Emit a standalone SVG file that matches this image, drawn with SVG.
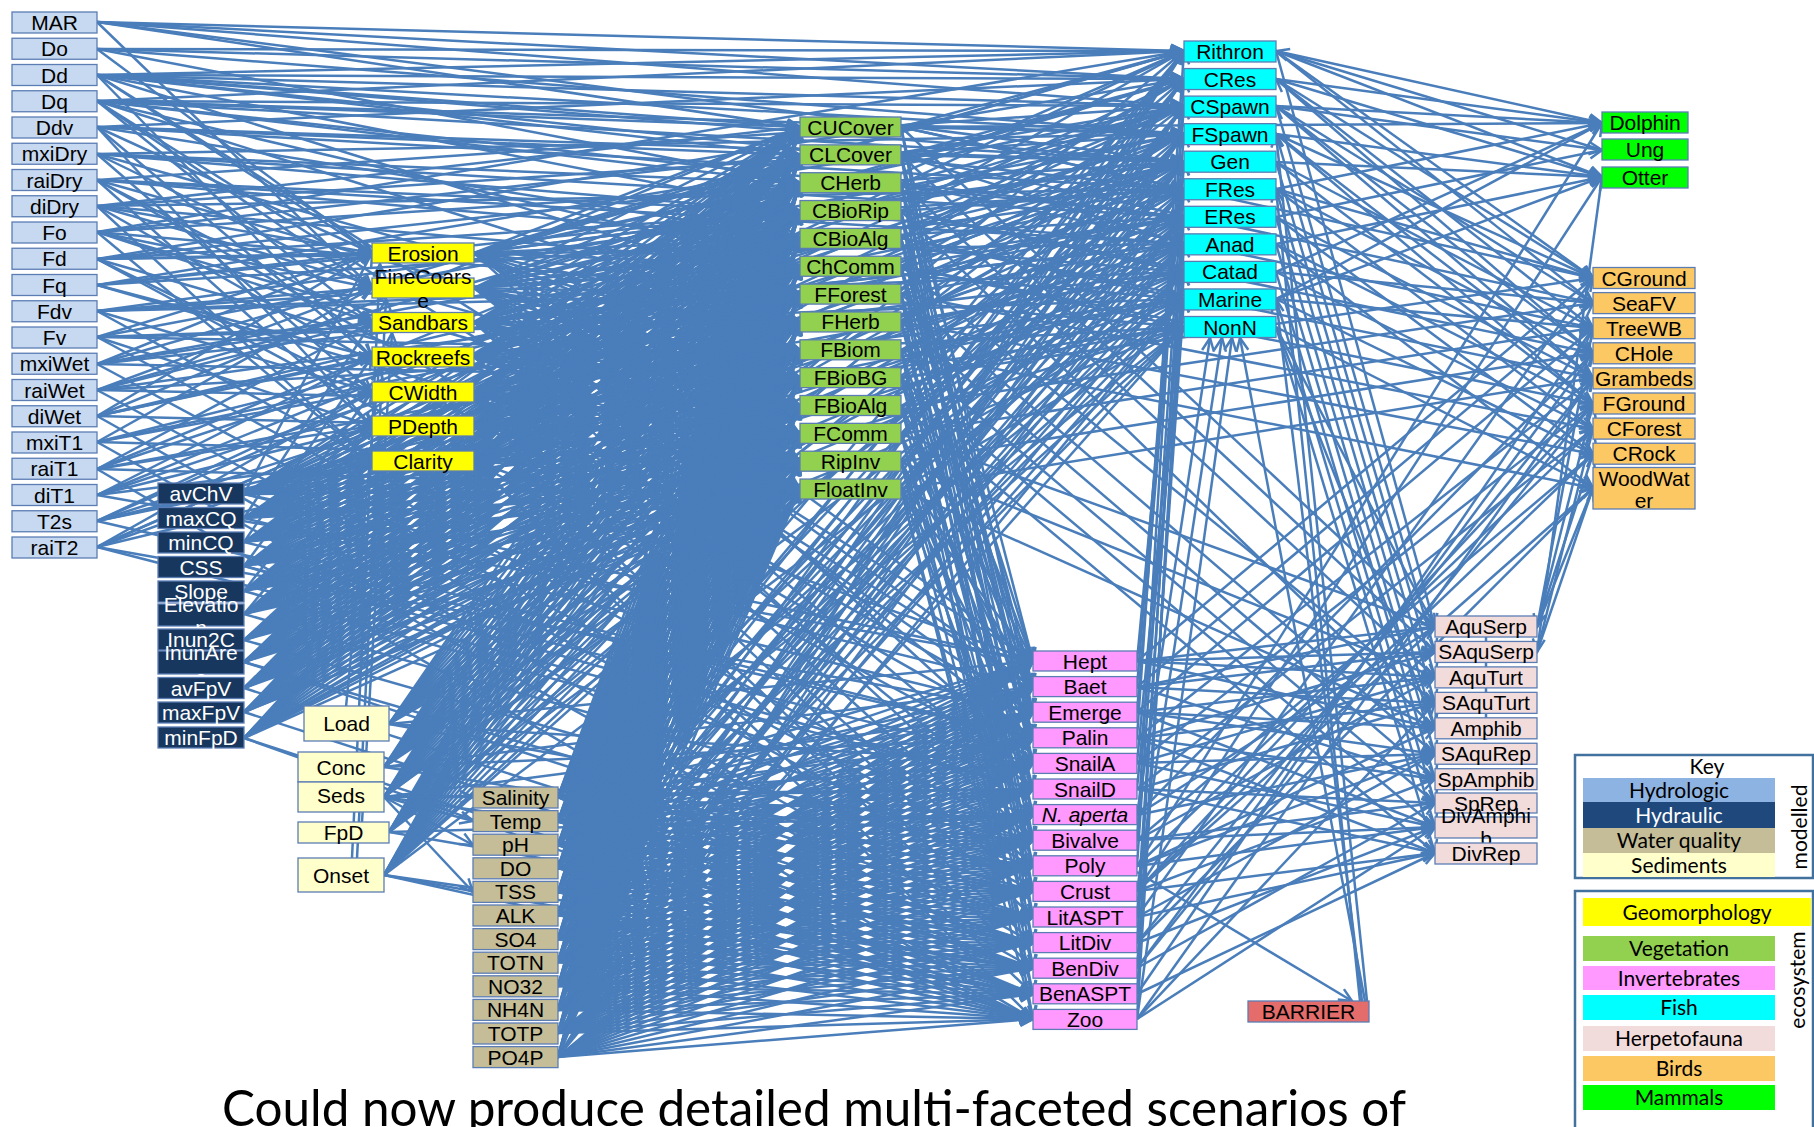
<svg xmlns="http://www.w3.org/2000/svg" width="1814" height="1127" viewBox="0 0 1814 1127">
<defs>
<style>
#connectors path{fill:none;stroke:#4a7ebb;stroke-width:2.5;marker-end:url(#ah)}
#connectors path.plain{marker-end:none}
.n rect{stroke:#5b7db4;stroke-width:1.3}
.n text{font-family:"Liberation Sans",Arial,sans-serif;font-size:21px;text-anchor:middle;fill:#000}
.hy rect{fill:#c6d9f1}
.hd rect{fill:#17375e}
.hd text{fill:#fff}
.wq rect{fill:#c4bd97}
.se rect{fill:#ffffcc}
.ge rect{fill:#ffff00}
.vg rect{fill:#92d050}
.fi rect{fill:#00ffff}
.iv rect{fill:#ff99ff}
.he rect{fill:#f2dcdb}
.bi rect{fill:#fcc864}
.ma rect{fill:#00ff00}
.br rect{fill:#e46c6a}
.key text{font-family:Lato,"Liberation Sans",sans-serif;font-size:21px;text-anchor:middle;fill:#000}
.frame{fill:#fff;stroke:#41719c;stroke-width:2.5}
.title{font-family:Lato,"Liberation Sans",sans-serif;font-size:50px;fill:#000}
</style>
<marker id="ah" markerUnits="userSpaceOnUse" markerWidth="20" markerHeight="18" refX="14" refY="7" orient="auto" overflow="visible"><path d="M1 1L14 7L1 13" fill="none" stroke="#4a7ebb" stroke-width="2.5"/></marker>
</defs>
<rect width="1814" height="1127" fill="#fff"/>

<g id="connectors">
<!-- hydrologic drivers -->
<path d="M97 22L1184 51"/><path d="M97 22L1184 79"/><path d="M97 22L1184 106"/><path d="M97 22L1184 162"/><path d="M97 22L800 127"/><path d="M97 22L372 288"/>
<path d="M97 49L1184 51"/><path d="M97 49L1184 79"/><path d="M97 49L1184 134"/><path d="M97 49L800 183"/><path d="M97 49L372 253"/>
<path d="M97 75L1184 51"/><path d="M97 75L1184 79"/><path d="M97 75L1184 106"/><path d="M97 75L1184 134"/><path d="M97 75L1184 162"/><path d="M97 75L1184 189"/><path d="M97 75L800 127"/><path d="M97 75L800 155"/><path d="M97 75L800 211"/><path d="M97 75L800 294"/><path d="M97 75L372 253"/><path d="M97 75L1033 661"/><path d="M97 75L372 357"/>
<path d="M97 101L1184 51"/><path d="M97 101L1184 106"/><path d="M97 101L1184 134"/><path d="M97 101L1184 162"/><path d="M97 101L1184 217"/><path d="M97 101L800 127"/><path d="M97 101L800 183"/><path d="M97 101L800 266"/><path d="M97 101L800 322"/><path d="M97 101L372 322"/><path d="M97 101L1033 687"/><path d="M97 101L372 288"/>
<path d="M97 127L1184 79"/><path d="M97 127L1184 162"/><path d="M97 127L1184 189"/><path d="M97 127L800 155"/><path d="M97 127L800 238"/><path d="M97 127L372 253"/><path d="M97 127L372 357"/><path d="M97 127L372 426"/>
<path d="M97 154L1184 134"/><path d="M97 154L1184 217"/><path d="M97 154L1184 244"/><path d="M97 154L800 183"/><path d="M97 154L800 350"/><path d="M97 154L372 392"/><path d="M97 154L372 288"/>
<path d="M97 180L1184 106"/><path d="M97 180L1184 244"/><path d="M97 180L1184 272"/><path d="M97 180L800 211"/><path d="M97 180L800 378"/><path d="M97 180L1033 712"/><path d="M97 180L372 426"/><path d="M97 180L372 322"/>
<path d="M97 206L1184 134"/><path d="M97 206L1184 189"/><path d="M97 206L1184 299"/><path d="M97 206L800 127"/><path d="M97 206L800 406"/><path d="M97 206L372 253"/><path d="M97 206L1033 738"/><path d="M97 206L372 461"/>
<path d="M97 232L1184 51"/><path d="M97 232L1184 162"/><path d="M97 232L1184 327"/><path d="M97 232L800 155"/><path d="M97 232L800 434"/><path d="M97 232L372 322"/><path d="M97 232L372 461"/><path d="M97 232L372 288"/>
<path d="M97 259L1184 79"/><path d="M97 259L1184 189"/><path d="M97 259L1184 244"/><path d="M97 259L800 183"/><path d="M97 259L800 462"/><path d="M97 259L372 253"/><path d="M97 259L1033 763"/><path d="M97 259L372 392"/>
<path d="M97 285L1184 106"/><path d="M97 285L1184 217"/><path d="M97 285L800 211"/><path d="M97 285L800 489"/><path d="M97 285L372 357"/><path d="M97 285L372 253"/>
<path d="M97 311L1184 162"/><path d="M97 311L1184 272"/><path d="M97 311L800 266"/><path d="M97 311L800 294"/><path d="M97 311L372 392"/><path d="M97 311L372 288"/><path d="M97 311L372 461"/>
<path d="M97 337L1184 134"/><path d="M97 337L1184 299"/><path d="M97 337L800 322"/><path d="M97 337L800 350"/><path d="M97 337L372 426"/><path d="M97 337L1033 840"/><path d="M97 337L372 253"/>
<path d="M97 364L1184 51"/><path d="M97 364L1184 244"/><path d="M97 364L800 238"/><path d="M97 364L800 378"/><path d="M97 364L372 253"/><path d="M97 364L1033 866"/><path d="M97 364L372 322"/>
<path d="M97 390L1184 79"/><path d="M97 390L1184 327"/><path d="M97 390L800 294"/><path d="M97 390L800 406"/><path d="M97 390L372 322"/><path d="M97 390L1033 891"/><path d="M97 390L372 288"/>
<path d="M97 416L1184 162"/><path d="M97 416L1184 189"/><path d="M97 416L800 127"/><path d="M97 416L800 434"/><path d="M97 416L372 357"/><path d="M97 416L1033 943"/><path d="M97 416L372 253"/>
<path d="M97 442L1184 217"/><path d="M97 442L800 266"/><path d="M97 442L800 462"/><path d="M97 442L372 392"/><path d="M97 442L1033 968"/><path d="M97 442L372 288"/>
<path d="M97 469L1184 106"/><path d="M97 469L1184 272"/><path d="M97 469L800 183"/><path d="M97 469L800 489"/><path d="M97 469L372 426"/><path d="M97 469L1033 1019"/><path d="M97 469L372 322"/>
<path d="M97 495L1184 134"/><path d="M97 495L800 211"/><path d="M97 495L800 322"/><path d="M97 495L372 461"/><path d="M97 495L1033 661"/><path d="M97 495L372 357"/>
<path d="M97 521L1184 51"/><path d="M97 521L1184 299"/><path d="M97 521L800 294"/><path d="M97 521L800 350"/><path d="M97 521L372 461"/><path d="M97 521L1033 738"/><path d="M97 521L372 392"/>
<path d="M97 547L1184 162"/><path d="M97 547L800 238"/><path d="M97 547L800 378"/><path d="M97 547L372 392"/><path d="M97 547L1033 712"/><path d="M97 547L1033 789"/><path d="M97 547L372 426"/>
<!-- hydraulic drivers: every vegetation node -->
<path d="M244 494L800 127"/><path d="M244 494L800 155"/><path d="M244 494L800 183"/><path d="M244 494L800 211"/><path d="M244 494L800 238"/><path d="M244 494L800 266"/><path d="M244 494L800 294"/><path d="M244 494L800 322"/><path d="M244 494L800 350"/><path d="M244 494L800 378"/><path d="M244 494L800 406"/><path d="M244 494L800 434"/><path d="M244 494L800 462"/><path d="M244 494L800 489"/>
<path d="M244 518L800 127"/><path d="M244 518L800 155"/><path d="M244 518L800 183"/><path d="M244 518L800 211"/><path d="M244 518L800 238"/><path d="M244 518L800 266"/><path d="M244 518L800 294"/><path d="M244 518L800 322"/><path d="M244 518L800 350"/><path d="M244 518L800 378"/><path d="M244 518L800 406"/><path d="M244 518L800 434"/><path d="M244 518L800 462"/><path d="M244 518L800 489"/>
<path d="M244 542L800 127"/><path d="M244 542L800 155"/><path d="M244 542L800 183"/><path d="M244 542L800 211"/><path d="M244 542L800 238"/><path d="M244 542L800 266"/><path d="M244 542L800 294"/><path d="M244 542L800 322"/><path d="M244 542L800 350"/><path d="M244 542L800 378"/><path d="M244 542L800 406"/><path d="M244 542L800 434"/><path d="M244 542L800 462"/><path d="M244 542L800 489"/>
<path d="M244 566L800 127"/><path d="M244 566L800 155"/><path d="M244 566L800 183"/><path d="M244 566L800 211"/><path d="M244 566L800 238"/><path d="M244 566L800 266"/><path d="M244 566L800 294"/><path d="M244 566L800 322"/><path d="M244 566L800 350"/><path d="M244 566L800 378"/><path d="M244 566L800 406"/><path d="M244 566L800 434"/><path d="M244 566L800 462"/><path d="M244 566L800 489"/>
<path d="M244 591L800 127"/><path d="M244 591L800 155"/><path d="M244 591L800 183"/><path d="M244 591L800 211"/><path d="M244 591L800 238"/><path d="M244 591L800 266"/><path d="M244 591L800 294"/><path d="M244 591L800 322"/><path d="M244 591L800 350"/><path d="M244 591L800 378"/><path d="M244 591L800 406"/><path d="M244 591L800 434"/><path d="M244 591L800 462"/><path d="M244 591L800 489"/>
<path d="M244 614L800 127"/><path d="M244 614L800 155"/><path d="M244 614L800 183"/><path d="M244 614L800 211"/><path d="M244 614L800 238"/><path d="M244 614L800 266"/><path d="M244 614L800 294"/><path d="M244 614L800 322"/><path d="M244 614L800 350"/><path d="M244 614L800 378"/><path d="M244 614L800 406"/><path d="M244 614L800 434"/><path d="M244 614L800 462"/><path d="M244 614L800 489"/>
<path d="M244 640L800 127"/><path d="M244 640L800 155"/><path d="M244 640L800 183"/><path d="M244 640L800 211"/><path d="M244 640L800 238"/><path d="M244 640L800 266"/><path d="M244 640L800 294"/><path d="M244 640L800 322"/><path d="M244 640L800 350"/><path d="M244 640L800 378"/><path d="M244 640L800 406"/><path d="M244 640L800 434"/><path d="M244 640L800 462"/><path d="M244 640L800 489"/>
<path d="M244 662L800 127"/><path d="M244 662L800 155"/><path d="M244 662L800 183"/><path d="M244 662L800 211"/><path d="M244 662L800 238"/><path d="M244 662L800 266"/><path d="M244 662L800 294"/><path d="M244 662L800 322"/><path d="M244 662L800 350"/><path d="M244 662L800 378"/><path d="M244 662L800 406"/><path d="M244 662L800 434"/><path d="M244 662L800 462"/><path d="M244 662L800 489"/>
<path d="M244 688L800 127"/><path d="M244 688L800 155"/><path d="M244 688L800 183"/><path d="M244 688L800 211"/><path d="M244 688L800 238"/><path d="M244 688L800 266"/><path d="M244 688L800 294"/><path d="M244 688L800 322"/><path d="M244 688L800 350"/><path d="M244 688L800 378"/><path d="M244 688L800 406"/><path d="M244 688L800 434"/><path d="M244 688L800 462"/><path d="M244 688L800 489"/>
<path d="M244 712L800 127"/><path d="M244 712L800 155"/><path d="M244 712L800 183"/><path d="M244 712L800 211"/><path d="M244 712L800 238"/><path d="M244 712L800 266"/><path d="M244 712L800 294"/><path d="M244 712L800 322"/><path d="M244 712L800 350"/><path d="M244 712L800 378"/><path d="M244 712L800 406"/><path d="M244 712L800 434"/><path d="M244 712L800 462"/><path d="M244 712L800 489"/>
<path d="M244 738L800 127"/><path d="M244 738L800 155"/><path d="M244 738L800 183"/><path d="M244 738L800 211"/><path d="M244 738L800 238"/><path d="M244 738L800 266"/><path d="M244 738L800 294"/><path d="M244 738L800 322"/><path d="M244 738L800 350"/><path d="M244 738L800 378"/><path d="M244 738L800 406"/><path d="M244 738L800 434"/><path d="M244 738L800 462"/><path d="M244 738L800 489"/>
<!-- hydraulic drivers: fish, geomorphology, invertebrates -->
<path d="M244 494L1184 51"/><path d="M244 494L1184 106"/><path d="M244 494L1184 162"/><path d="M244 494L372 253"/><path d="M244 494L1033 661"/><path d="M244 494L1033 687"/>
<path d="M244 518L1184 79"/><path d="M244 518L1184 134"/><path d="M244 518L1184 189"/><path d="M244 518L372 322"/><path d="M244 518L1033 712"/>
<path d="M244 542L1184 106"/><path d="M244 542L1184 217"/><path d="M244 542L1184 244"/><path d="M244 542L372 357"/><path d="M244 542L1033 738"/>
<path d="M244 566L1184 162"/><path d="M244 566L1184 272"/><path d="M244 566L372 392"/><path d="M244 566L1033 763"/><path d="M244 566L1033 789"/>
<path d="M244 591L1184 134"/><path d="M244 591L1184 299"/><path d="M244 591L372 426"/><path d="M244 591L1033 815"/>
<path d="M244 614L1184 189"/><path d="M244 614L1184 327"/><path d="M244 614L372 461"/><path d="M244 614L1033 840"/>
<path d="M244 640L1184 79"/><path d="M244 640L1184 244"/><path d="M244 640L1033 866"/>
<path d="M244 662L1184 217"/><path d="M244 662L1184 272"/><path d="M244 662L1033 891"/><path d="M244 662L1033 917"/>
<path d="M244 688L1184 162"/><path d="M244 688L1184 299"/><path d="M244 688L1033 943"/>
<path d="M244 712L1184 134"/><path d="M244 712L1184 327"/><path d="M244 712L1033 968"/>
<path d="M244 738L1184 189"/><path d="M244 738L1184 244"/><path d="M244 738L1033 994"/><path d="M244 738L1033 1019"/>
<!-- sediment drivers: every vegetation node -->
<path d="M389 724L800 127"/><path d="M389 724L800 155"/><path d="M389 724L800 183"/><path d="M389 724L800 211"/><path d="M389 724L800 238"/><path d="M389 724L800 266"/><path d="M389 724L800 294"/><path d="M389 724L800 322"/><path d="M389 724L800 350"/><path d="M389 724L800 378"/><path d="M389 724L800 406"/><path d="M389 724L800 434"/><path d="M389 724L800 462"/><path d="M389 724L800 489"/>
<path d="M384 767L800 127"/><path d="M384 767L800 155"/><path d="M384 767L800 183"/><path d="M384 767L800 211"/><path d="M384 767L800 238"/><path d="M384 767L800 266"/><path d="M384 767L800 294"/><path d="M384 767L800 322"/><path d="M384 767L800 350"/><path d="M384 767L800 378"/><path d="M384 767L800 406"/><path d="M384 767L800 434"/><path d="M384 767L800 462"/><path d="M384 767L800 489"/>
<path d="M384 797L800 127"/><path d="M384 797L800 155"/><path d="M384 797L800 183"/><path d="M384 797L800 211"/><path d="M384 797L800 238"/><path d="M384 797L800 266"/><path d="M384 797L800 294"/><path d="M384 797L800 322"/><path d="M384 797L800 350"/><path d="M384 797L800 378"/><path d="M384 797L800 406"/><path d="M384 797L800 434"/><path d="M384 797L800 462"/><path d="M384 797L800 489"/>
<path d="M389 832L800 127"/><path d="M389 832L800 155"/><path d="M389 832L800 183"/><path d="M389 832L800 211"/><path d="M389 832L800 238"/><path d="M389 832L800 266"/><path d="M389 832L800 294"/><path d="M389 832L800 322"/><path d="M389 832L800 350"/><path d="M389 832L800 378"/><path d="M389 832L800 406"/><path d="M389 832L800 434"/><path d="M389 832L800 462"/><path d="M389 832L800 489"/>
<path d="M384 875L800 127"/><path d="M384 875L800 155"/><path d="M384 875L800 183"/><path d="M384 875L800 211"/><path d="M384 875L800 238"/><path d="M384 875L800 266"/><path d="M384 875L800 294"/><path d="M384 875L800 322"/><path d="M384 875L800 350"/><path d="M384 875L800 378"/><path d="M384 875L800 406"/><path d="M384 875L800 434"/><path d="M384 875L800 462"/><path d="M384 875L800 489"/>
<!-- sediment drivers: fish, invertebrates, water quality -->
<path d="M389 724L1184 51"/><path d="M389 724L1184 106"/><path d="M389 724L1033 661"/><path d="M389 724L1033 763"/><path d="M389 724L1033 840"/>
<path d="M384 767L1184 79"/><path d="M384 767L1184 162"/><path d="M384 767L1033 687"/><path d="M384 767L1033 738"/><path d="M384 767L1033 866"/>
<path d="M384 797L1184 134"/><path d="M384 797L1184 217"/><path d="M384 797L1033 712"/><path d="M384 797L1033 789"/><path d="M384 797L1033 891"/><path d="M384 797L473 797"/><path d="M384 797L473 821"/><path d="M384 797L473 845"/><path d="M384 797L473 892"/>
<path d="M389 832L1184 189"/><path d="M389 832L1184 244"/><path d="M389 832L1033 815"/><path d="M389 832L1033 943"/>
<path d="M384 875L1184 162"/><path d="M384 875L1184 272"/><path d="M384 875L1033 968"/><path d="M384 875L1033 1019"/><path d="M384 875L1033 994"/>
<path d="M352 858L380 264"/><path d="M357 858L386 299"/><path d="M362 822L392 333"/><path d="M346 707L379 368"/>
<!-- water quality to vegetation -->
<path d="M558 797L800 127"/><path d="M558 797L800 155"/><path d="M558 797L800 183"/><path d="M558 797L800 211"/><path d="M558 797L800 238"/><path d="M558 797L800 266"/><path d="M558 797L800 294"/><path d="M558 797L800 322"/><path d="M558 797L800 350"/><path d="M558 797L800 378"/><path d="M558 797L800 406"/><path d="M558 797L800 434"/><path d="M558 797L800 462"/><path d="M558 797L800 489"/>
<path d="M558 821L800 127"/><path d="M558 821L800 155"/><path d="M558 821L800 183"/><path d="M558 821L800 211"/><path d="M558 821L800 238"/><path d="M558 821L800 266"/><path d="M558 821L800 294"/><path d="M558 821L800 322"/><path d="M558 821L800 350"/><path d="M558 821L800 378"/><path d="M558 821L800 406"/><path d="M558 821L800 434"/><path d="M558 821L800 462"/><path d="M558 821L800 489"/>
<path d="M558 845L800 127"/><path d="M558 845L800 155"/><path d="M558 845L800 183"/><path d="M558 845L800 211"/><path d="M558 845L800 238"/><path d="M558 845L800 266"/><path d="M558 845L800 294"/><path d="M558 845L800 322"/><path d="M558 845L800 350"/><path d="M558 845L800 378"/><path d="M558 845L800 406"/><path d="M558 845L800 434"/><path d="M558 845L800 462"/><path d="M558 845L800 489"/>
<path d="M558 868L800 127"/><path d="M558 868L800 155"/><path d="M558 868L800 183"/><path d="M558 868L800 211"/><path d="M558 868L800 238"/><path d="M558 868L800 266"/><path d="M558 868L800 294"/><path d="M558 868L800 322"/><path d="M558 868L800 350"/><path d="M558 868L800 378"/><path d="M558 868L800 406"/><path d="M558 868L800 434"/><path d="M558 868L800 462"/><path d="M558 868L800 489"/>
<path d="M558 892L800 127"/><path d="M558 892L800 155"/><path d="M558 892L800 183"/><path d="M558 892L800 211"/><path d="M558 892L800 238"/><path d="M558 892L800 266"/><path d="M558 892L800 294"/><path d="M558 892L800 322"/><path d="M558 892L800 350"/><path d="M558 892L800 378"/><path d="M558 892L800 406"/><path d="M558 892L800 434"/><path d="M558 892L800 462"/><path d="M558 892L800 489"/>
<path d="M558 915L800 127"/><path d="M558 915L800 155"/><path d="M558 915L800 183"/><path d="M558 915L800 211"/><path d="M558 915L800 238"/><path d="M558 915L800 266"/><path d="M558 915L800 294"/><path d="M558 915L800 322"/><path d="M558 915L800 350"/><path d="M558 915L800 378"/><path d="M558 915L800 406"/><path d="M558 915L800 434"/><path d="M558 915L800 462"/><path d="M558 915L800 489"/>
<path d="M558 939L800 127"/><path d="M558 939L800 155"/><path d="M558 939L800 183"/><path d="M558 939L800 211"/><path d="M558 939L800 238"/><path d="M558 939L800 266"/><path d="M558 939L800 294"/><path d="M558 939L800 322"/><path d="M558 939L800 350"/><path d="M558 939L800 378"/><path d="M558 939L800 406"/><path d="M558 939L800 434"/><path d="M558 939L800 462"/><path d="M558 939L800 489"/>
<path d="M558 962L800 127"/><path d="M558 962L800 155"/><path d="M558 962L800 183"/><path d="M558 962L800 211"/><path d="M558 962L800 238"/><path d="M558 962L800 266"/><path d="M558 962L800 294"/><path d="M558 962L800 322"/><path d="M558 962L800 350"/><path d="M558 962L800 378"/><path d="M558 962L800 406"/><path d="M558 962L800 434"/><path d="M558 962L800 462"/><path d="M558 962L800 489"/>
<path d="M558 986L800 127"/><path d="M558 986L800 155"/><path d="M558 986L800 183"/><path d="M558 986L800 211"/><path d="M558 986L800 238"/><path d="M558 986L800 266"/><path d="M558 986L800 294"/><path d="M558 986L800 322"/><path d="M558 986L800 350"/><path d="M558 986L800 378"/><path d="M558 986L800 406"/><path d="M558 986L800 434"/><path d="M558 986L800 462"/><path d="M558 986L800 489"/>
<path d="M558 1010L800 127"/><path d="M558 1010L800 155"/><path d="M558 1010L800 183"/><path d="M558 1010L800 211"/><path d="M558 1010L800 238"/><path d="M558 1010L800 266"/><path d="M558 1010L800 294"/><path d="M558 1010L800 322"/><path d="M558 1010L800 350"/><path d="M558 1010L800 378"/><path d="M558 1010L800 406"/><path d="M558 1010L800 434"/><path d="M558 1010L800 462"/><path d="M558 1010L800 489"/>
<path d="M558 1033L800 127"/><path d="M558 1033L800 155"/><path d="M558 1033L800 183"/><path d="M558 1033L800 211"/><path d="M558 1033L800 238"/><path d="M558 1033L800 266"/><path d="M558 1033L800 294"/><path d="M558 1033L800 322"/><path d="M558 1033L800 350"/><path d="M558 1033L800 378"/><path d="M558 1033L800 406"/><path d="M558 1033L800 434"/><path d="M558 1033L800 462"/><path d="M558 1033L800 489"/>
<path d="M558 1057L800 127"/><path d="M558 1057L800 155"/><path d="M558 1057L800 183"/><path d="M558 1057L800 211"/><path d="M558 1057L800 238"/><path d="M558 1057L800 266"/><path d="M558 1057L800 294"/><path d="M558 1057L800 322"/><path d="M558 1057L800 350"/><path d="M558 1057L800 378"/><path d="M558 1057L800 406"/><path d="M558 1057L800 434"/><path d="M558 1057L800 462"/><path d="M558 1057L800 489"/>
<!-- water quality to invertebrates -->
<path d="M558 797L1033 661"/><path d="M558 797L1033 687"/><path d="M558 797L1033 712"/><path d="M558 797L1033 738"/><path d="M558 797L1033 763"/><path d="M558 797L1033 789"/><path d="M558 797L1033 815"/><path d="M558 797L1033 840"/><path d="M558 797L1033 866"/><path d="M558 797L1033 891"/><path d="M558 797L1033 917"/><path d="M558 797L1033 943"/><path d="M558 797L1033 968"/><path d="M558 797L1033 994"/><path d="M558 797L1033 1019"/>
<path d="M558 821L1033 661"/><path d="M558 821L1033 687"/><path d="M558 821L1033 712"/><path d="M558 821L1033 738"/><path d="M558 821L1033 763"/><path d="M558 821L1033 789"/><path d="M558 821L1033 815"/><path d="M558 821L1033 840"/><path d="M558 821L1033 866"/><path d="M558 821L1033 891"/><path d="M558 821L1033 917"/><path d="M558 821L1033 943"/><path d="M558 821L1033 968"/><path d="M558 821L1033 994"/><path d="M558 821L1033 1019"/>
<path d="M558 845L1033 661"/><path d="M558 845L1033 687"/><path d="M558 845L1033 712"/><path d="M558 845L1033 738"/><path d="M558 845L1033 763"/><path d="M558 845L1033 789"/><path d="M558 845L1033 815"/><path d="M558 845L1033 840"/><path d="M558 845L1033 866"/><path d="M558 845L1033 891"/><path d="M558 845L1033 917"/><path d="M558 845L1033 943"/><path d="M558 845L1033 968"/><path d="M558 845L1033 994"/><path d="M558 845L1033 1019"/>
<path d="M558 868L1033 661"/><path d="M558 868L1033 687"/><path d="M558 868L1033 712"/><path d="M558 868L1033 738"/><path d="M558 868L1033 763"/><path d="M558 868L1033 789"/><path d="M558 868L1033 815"/><path d="M558 868L1033 840"/><path d="M558 868L1033 866"/><path d="M558 868L1033 891"/><path d="M558 868L1033 917"/><path d="M558 868L1033 943"/><path d="M558 868L1033 968"/><path d="M558 868L1033 994"/><path d="M558 868L1033 1019"/>
<path d="M558 892L1033 661"/><path d="M558 892L1033 687"/><path d="M558 892L1033 712"/><path d="M558 892L1033 738"/><path d="M558 892L1033 763"/><path d="M558 892L1033 789"/><path d="M558 892L1033 815"/><path d="M558 892L1033 840"/><path d="M558 892L1033 866"/><path d="M558 892L1033 891"/><path d="M558 892L1033 917"/><path d="M558 892L1033 943"/><path d="M558 892L1033 968"/><path d="M558 892L1033 994"/><path d="M558 892L1033 1019"/>
<path d="M558 915L1033 661"/><path d="M558 915L1033 687"/><path d="M558 915L1033 712"/><path d="M558 915L1033 738"/><path d="M558 915L1033 763"/><path d="M558 915L1033 789"/><path d="M558 915L1033 815"/><path d="M558 915L1033 840"/><path d="M558 915L1033 866"/><path d="M558 915L1033 891"/><path d="M558 915L1033 917"/><path d="M558 915L1033 943"/><path d="M558 915L1033 968"/><path d="M558 915L1033 994"/><path d="M558 915L1033 1019"/>
<path d="M558 939L1033 661"/><path d="M558 939L1033 687"/><path d="M558 939L1033 712"/><path d="M558 939L1033 738"/><path d="M558 939L1033 763"/><path d="M558 939L1033 789"/><path d="M558 939L1033 815"/><path d="M558 939L1033 840"/><path d="M558 939L1033 866"/><path d="M558 939L1033 891"/><path d="M558 939L1033 917"/><path d="M558 939L1033 943"/><path d="M558 939L1033 968"/><path d="M558 939L1033 994"/><path d="M558 939L1033 1019"/>
<path d="M558 962L1033 661"/><path d="M558 962L1033 687"/><path d="M558 962L1033 712"/><path d="M558 962L1033 738"/><path d="M558 962L1033 763"/><path d="M558 962L1033 789"/><path d="M558 962L1033 815"/><path d="M558 962L1033 840"/><path d="M558 962L1033 866"/><path d="M558 962L1033 891"/><path d="M558 962L1033 917"/><path d="M558 962L1033 943"/><path d="M558 962L1033 968"/><path d="M558 962L1033 994"/><path d="M558 962L1033 1019"/>
<path d="M558 986L1033 661"/><path d="M558 986L1033 687"/><path d="M558 986L1033 712"/><path d="M558 986L1033 738"/><path d="M558 986L1033 763"/><path d="M558 986L1033 789"/><path d="M558 986L1033 815"/><path d="M558 986L1033 840"/><path d="M558 986L1033 866"/><path d="M558 986L1033 891"/><path d="M558 986L1033 917"/><path d="M558 986L1033 943"/><path d="M558 986L1033 968"/><path d="M558 986L1033 994"/><path d="M558 986L1033 1019"/>
<path d="M558 1010L1033 661"/><path d="M558 1010L1033 687"/><path d="M558 1010L1033 712"/><path d="M558 1010L1033 738"/><path d="M558 1010L1033 763"/><path d="M558 1010L1033 789"/><path d="M558 1010L1033 815"/><path d="M558 1010L1033 840"/><path d="M558 1010L1033 866"/><path d="M558 1010L1033 891"/><path d="M558 1010L1033 917"/><path d="M558 1010L1033 943"/><path d="M558 1010L1033 968"/><path d="M558 1010L1033 994"/><path d="M558 1010L1033 1019"/>
<path d="M558 1033L1033 661"/><path d="M558 1033L1033 687"/><path d="M558 1033L1033 712"/><path d="M558 1033L1033 738"/><path d="M558 1033L1033 763"/><path d="M558 1033L1033 789"/><path d="M558 1033L1033 815"/><path d="M558 1033L1033 840"/><path d="M558 1033L1033 866"/><path d="M558 1033L1033 891"/><path d="M558 1033L1033 917"/><path d="M558 1033L1033 943"/><path d="M558 1033L1033 968"/><path d="M558 1033L1033 994"/><path d="M558 1033L1033 1019"/>
<path d="M558 1057L1033 661"/><path d="M558 1057L1033 687"/><path d="M558 1057L1033 712"/><path d="M558 1057L1033 738"/><path d="M558 1057L1033 763"/><path d="M558 1057L1033 789"/><path d="M558 1057L1033 815"/><path d="M558 1057L1033 840"/><path d="M558 1057L1033 866"/><path d="M558 1057L1033 891"/><path d="M558 1057L1033 917"/><path d="M558 1057L1033 943"/><path d="M558 1057L1033 968"/><path d="M558 1057L1033 994"/><path d="M558 1057L1033 1019"/>
<!-- water quality to fish -->
<path d="M558 797L1184 51"/><path d="M558 797L1184 134"/><path d="M558 797L1184 217"/><path d="M558 797L1184 299"/>
<path d="M558 821L1184 79"/><path d="M558 821L1184 162"/><path d="M558 821L1184 244"/><path d="M558 821L1184 327"/>
<path d="M558 845L1184 106"/><path d="M558 845L1184 189"/><path d="M558 845L1184 272"/><path d="M558 845L1184 51"/>
<path d="M558 868L1184 134"/><path d="M558 868L1184 217"/><path d="M558 868L1184 299"/><path d="M558 868L1184 79"/>
<path d="M558 892L1184 162"/><path d="M558 892L1184 244"/><path d="M558 892L1184 327"/><path d="M558 892L1184 106"/>
<path d="M558 915L1184 189"/><path d="M558 915L1184 272"/><path d="M558 915L1184 51"/><path d="M558 915L1184 134"/>
<path d="M558 939L1184 217"/><path d="M558 939L1184 299"/><path d="M558 939L1184 79"/><path d="M558 939L1184 162"/>
<path d="M558 962L1184 244"/><path d="M558 962L1184 327"/><path d="M558 962L1184 106"/><path d="M558 962L1184 189"/>
<path d="M558 986L1184 272"/><path d="M558 986L1184 51"/><path d="M558 986L1184 134"/><path d="M558 986L1184 217"/>
<path d="M558 1010L1184 299"/><path d="M558 1010L1184 79"/><path d="M558 1010L1184 162"/><path d="M558 1010L1184 244"/>
<path d="M558 1033L1184 327"/><path d="M558 1033L1184 106"/><path d="M558 1033L1184 189"/><path d="M558 1033L1184 272"/>
<path d="M558 1057L1184 51"/><path d="M558 1057L1184 134"/><path d="M558 1057L1184 217"/><path d="M558 1057L1184 299"/>
<!-- geomorphology: every vegetation node -->
<path d="M474 253L800 127"/><path d="M474 253L800 155"/><path d="M474 253L800 183"/><path d="M474 253L800 211"/><path d="M474 253L800 238"/><path d="M474 253L800 266"/><path d="M474 253L800 294"/><path d="M474 253L800 322"/><path d="M474 253L800 350"/><path d="M474 253L800 378"/><path d="M474 253L800 406"/><path d="M474 253L800 434"/><path d="M474 253L800 462"/><path d="M474 253L800 489"/>
<path d="M474 288L800 127"/><path d="M474 288L800 155"/><path d="M474 288L800 183"/><path d="M474 288L800 211"/><path d="M474 288L800 238"/><path d="M474 288L800 266"/><path d="M474 288L800 294"/><path d="M474 288L800 322"/><path d="M474 288L800 350"/><path d="M474 288L800 378"/><path d="M474 288L800 406"/><path d="M474 288L800 434"/><path d="M474 288L800 462"/><path d="M474 288L800 489"/>
<path d="M474 322L800 127"/><path d="M474 322L800 155"/><path d="M474 322L800 183"/><path d="M474 322L800 211"/><path d="M474 322L800 238"/><path d="M474 322L800 266"/><path d="M474 322L800 294"/><path d="M474 322L800 322"/><path d="M474 322L800 350"/><path d="M474 322L800 378"/><path d="M474 322L800 406"/><path d="M474 322L800 434"/><path d="M474 322L800 462"/><path d="M474 322L800 489"/>
<path d="M474 357L800 127"/><path d="M474 357L800 155"/><path d="M474 357L800 183"/><path d="M474 357L800 211"/><path d="M474 357L800 238"/><path d="M474 357L800 266"/><path d="M474 357L800 294"/><path d="M474 357L800 322"/><path d="M474 357L800 350"/><path d="M474 357L800 378"/><path d="M474 357L800 406"/><path d="M474 357L800 434"/><path d="M474 357L800 462"/><path d="M474 357L800 489"/>
<path d="M474 392L800 127"/><path d="M474 392L800 155"/><path d="M474 392L800 183"/><path d="M474 392L800 211"/><path d="M474 392L800 238"/><path d="M474 392L800 266"/><path d="M474 392L800 294"/><path d="M474 392L800 322"/><path d="M474 392L800 350"/><path d="M474 392L800 378"/><path d="M474 392L800 406"/><path d="M474 392L800 434"/><path d="M474 392L800 462"/><path d="M474 392L800 489"/>
<path d="M474 426L800 127"/><path d="M474 426L800 155"/><path d="M474 426L800 183"/><path d="M474 426L800 211"/><path d="M474 426L800 238"/><path d="M474 426L800 266"/><path d="M474 426L800 294"/><path d="M474 426L800 322"/><path d="M474 426L800 350"/><path d="M474 426L800 378"/><path d="M474 426L800 406"/><path d="M474 426L800 434"/><path d="M474 426L800 462"/><path d="M474 426L800 489"/>
<path d="M474 461L800 127"/><path d="M474 461L800 155"/><path d="M474 461L800 183"/><path d="M474 461L800 211"/><path d="M474 461L800 238"/><path d="M474 461L800 266"/><path d="M474 461L800 294"/><path d="M474 461L800 322"/><path d="M474 461L800 350"/><path d="M474 461L800 378"/><path d="M474 461L800 406"/><path d="M474 461L800 434"/><path d="M474 461L800 462"/><path d="M474 461L800 489"/>
<!-- geomorphology: fish and invertebrates -->
<path d="M474 253L1184 51"/><path d="M474 253L1184 106"/><path d="M474 253L1184 162"/><path d="M474 253L1033 661"/><path d="M474 253L1033 763"/>
<path d="M474 288L1184 79"/><path d="M474 288L1184 134"/><path d="M474 288L1184 189"/><path d="M474 288L1033 687"/><path d="M474 288L1033 738"/>
<path d="M474 322L1184 106"/><path d="M474 322L1184 217"/><path d="M474 322L1184 244"/><path d="M474 322L1033 712"/><path d="M474 322L1033 789"/><path d="M474 322L1033 840"/>
<path d="M474 357L1184 134"/><path d="M474 357L1184 272"/><path d="M474 357L1033 815"/><path d="M474 357L1033 866"/>
<path d="M474 392L1184 162"/><path d="M474 392L1184 299"/><path d="M474 392L1033 891"/><path d="M474 392L1033 917"/>
<path d="M474 426L1184 189"/><path d="M474 426L1184 327"/><path d="M474 426L1033 943"/><path d="M474 426L1033 968"/>
<path d="M474 461L1184 217"/><path d="M474 461L1184 244"/><path d="M474 461L1033 994"/><path d="M474 461L1033 1019"/><path d="M474 461L1033 661"/>
<!-- vegetation -->
<path d="M901 127L1184 51"/><path d="M901 127L1184 134"/><path d="M901 127L1184 189"/><path d="M901 127L1593 278"/><path d="M901 127L1435 627"/><path d="M901 127L1602 123"/><path d="M901 127L1033 712"/><path d="M901 127L1033 840"/>
<path d="M901 155L1184 79"/><path d="M901 155L1184 162"/><path d="M901 155L1184 244"/><path d="M901 155L1593 303"/><path d="M901 155L1435 652"/><path d="M901 155L1033 661"/><path d="M901 155L1033 763"/><path d="M901 155L1033 917"/>
<path d="M901 183L1184 106"/><path d="M901 183L1184 217"/><path d="M901 183L1593 328"/><path d="M901 183L1033 687"/><path d="M901 183L1435 677"/><path d="M901 183L1033 738"/><path d="M901 183L1033 891"/>
<path d="M901 211L1184 51"/><path d="M901 211L1184 189"/><path d="M901 211L1184 272"/><path d="M901 211L1593 353"/><path d="M901 211L1033 712"/><path d="M901 211L1435 728"/><path d="M901 211L1033 815"/><path d="M901 211L1033 968"/>
<path d="M901 238L1184 79"/><path d="M901 238L1184 162"/><path d="M901 238L1184 299"/><path d="M901 238L1033 738"/><path d="M901 238L1033 763"/><path d="M901 238L1593 378"/><path d="M901 238L1033 661"/><path d="M901 238L1033 866"/>
<path d="M901 266L1184 106"/><path d="M901 266L1184 217"/><path d="M901 266L1184 327"/><path d="M901 266L1593 404"/><path d="M901 266L1033 789"/><path d="M901 266L1435 703"/><path d="M901 266L1033 687"/><path d="M901 266L1033 943"/>
<path d="M901 294L1184 134"/><path d="M901 294L1184 244"/><path d="M901 294L1593 429"/><path d="M901 294L1033 815"/><path d="M901 294L1435 754"/><path d="M901 294L1033 712"/><path d="M901 294L1033 1019"/>
<path d="M901 322L1184 162"/><path d="M901 322L1184 272"/><path d="M901 322L1593 454"/><path d="M901 322L1033 840"/><path d="M901 322L1435 779"/><path d="M901 322L1033 661"/><path d="M901 322L1033 789"/>
<path d="M901 350L1184 189"/><path d="M901 350L1184 299"/><path d="M901 350L1593 488"/><path d="M901 350L1033 866"/><path d="M901 350L1435 803"/><path d="M901 350L1033 738"/><path d="M901 350L1033 994"/>
<path d="M901 378L1184 217"/><path d="M901 378L1184 327"/><path d="M901 378L1033 891"/><path d="M901 378L1435 827"/><path d="M901 378L1593 278"/><path d="M901 378L1033 687"/><path d="M901 378L1033 815"/>
<path d="M901 406L1184 244"/><path d="M901 406L1033 917"/><path d="M901 406L1435 853"/><path d="M901 406L1593 303"/><path d="M901 406L1033 661"/><path d="M901 406L1033 763"/>
<path d="M901 434L1184 272"/><path d="M901 434L1033 943"/><path d="M901 434L1435 627"/><path d="M901 434L1593 328"/><path d="M901 434L1033 712"/><path d="M901 434L1033 866"/>
<path d="M901 462L1184 299"/><path d="M901 462L1033 968"/><path d="M901 462L1435 677"/><path d="M901 462L1593 353"/><path d="M901 462L1033 687"/><path d="M901 462L1033 789"/><path d="M901 462L1033 891"/>
<path d="M901 489L1184 327"/><path d="M901 489L1033 994"/><path d="M901 489L1033 1019"/><path d="M901 489L1435 728"/><path d="M901 489L1593 378"/><path d="M901 489L1033 661"/><path d="M901 489L1033 738"/><path d="M901 489L1033 840"/>
<!-- invertebrates -->
<path d="M1137 661L1184 162"/><path d="M1137 661L1435 627"/><path d="M1137 661L1435 728"/><path d="M1137 661L1593 278"/><path d="M1137 661L1435 652"/><path d="M1137 661L1435 677"/>
<path d="M1137 687L1184 106"/><path d="M1137 687L1435 652"/><path d="M1137 687L1435 779"/><path d="M1137 687L1593 303"/><path d="M1137 687L1435 627"/><path d="M1137 687L1435 703"/>
<path d="M1137 712L1184 134"/><path d="M1137 712L1435 677"/><path d="M1137 712L1435 827"/><path d="M1137 712L1593 328"/><path d="M1137 712L1435 728"/><path d="M1137 712L1435 754"/>
<path d="M1137 738L1184 51"/><path d="M1137 738L1435 703"/><path d="M1137 738L1435 853"/><path d="M1137 738L1593 378"/><path d="M1137 738L1435 779"/><path d="M1137 738L1435 652"/>
<path d="M1137 763L1184 272"/><path d="M1137 763L1435 754"/><path d="M1137 763L1593 404"/><path d="M1137 763L1435 827"/><path d="M1137 763L1435 677"/>
<path d="M1137 789L1184 299"/><path d="M1137 789L1435 803"/><path d="M1137 789L1593 429"/><path d="M1137 789L1435 853"/><path d="M1137 789L1435 703"/>
<path d="M1137 815L1210 338"/><path d="M1137 815L1435 627"/><path d="M1137 815L1593 353"/><path d="M1137 815L1435 754"/>
<path d="M1137 840L1184 79"/><path d="M1137 840L1435 677"/><path d="M1137 840L1593 454"/><path d="M1137 840L1435 803"/><path d="M1137 840L1435 827"/>
<path d="M1137 866L1184 162"/><path d="M1137 866L1435 728"/><path d="M1137 866L1593 429"/><path d="M1137 866L1602 123"/><path d="M1137 866L1435 754"/><path d="M1137 866L1435 827"/>
<path d="M1137 891L1222 338"/><path d="M1137 891L1435 779"/><path d="M1137 891L1435 853"/><path d="M1137 891L1593 404"/><path d="M1137 891L1593 454"/><path d="M1137 891L1593 488"/><path d="M1137 891L1602 177"/>
<path d="M1137 917L1184 217"/><path d="M1137 917L1435 754"/><path d="M1137 917L1593 278"/><path d="M1137 917L1435 853"/>
<path d="M1137 943L1184 189"/><path d="M1137 943L1435 827"/><path d="M1137 943L1593 488"/><path d="M1137 943L1593 378"/>
<path d="M1137 968L1184 299"/><path d="M1137 968L1435 803"/><path d="M1137 968L1593 353"/><path d="M1137 968L1593 404"/>
<path d="M1137 994L1184 272"/><path d="M1137 994L1435 853"/><path d="M1137 994L1593 328"/>
<path d="M1137 1019L1232 338"/><path d="M1137 1019L1184 244"/><path d="M1137 1019L1435 703"/><path d="M1137 1019L1593 378"/><path d="M1137 1019L1435 827"/>
<path d="M1137 872L1352 1001"/>
<!-- fish -->
<path d="M1276 51L1602 123"/><path d="M1276 51L1602 177"/><path d="M1276 51L1593 278"/><path d="M1276 51L1593 303"/><path d="M1276 51L1435 627"/>
<path d="M1276 79L1602 123"/><path d="M1276 79L1602 177"/><path d="M1276 79L1593 278"/><path d="M1276 79L1593 328"/>
<path d="M1276 106L1602 123"/><path d="M1276 106L1602 150"/><path d="M1276 106L1593 303"/><path d="M1276 106L1593 353"/><path d="M1276 106L1435 652"/>
<path d="M1276 134L1602 177"/><path d="M1276 134L1593 278"/><path d="M1276 134L1593 378"/><path d="M1276 134L1435 677"/>
<path d="M1276 162L1602 177"/><path d="M1276 162L1593 328"/><path d="M1276 162L1593 404"/><path d="M1276 162L1435 703"/>
<path d="M1276 189L1602 123"/><path d="M1276 189L1593 353"/><path d="M1276 189L1593 429"/><path d="M1276 189L1435 728"/><path d="M1276 189L1593 278"/>
<path d="M1276 217L1602 150"/><path d="M1276 217L1593 378"/><path d="M1276 217L1593 454"/><path d="M1276 217L1435 754"/>
<path d="M1276 244L1602 177"/><path d="M1276 244L1593 404"/><path d="M1276 244L1593 488"/><path d="M1276 244L1435 779"/>
<path d="M1276 272L1602 123"/><path d="M1276 272L1593 429"/><path d="M1276 272L1435 803"/><path d="M1276 272L1593 303"/>
<path d="M1276 299L1602 123"/><path d="M1276 299L1602 177"/><path d="M1276 299L1593 454"/><path d="M1276 299L1435 827"/><path d="M1276 299L1593 328"/>
<path d="M1276 327L1593 488"/><path d="M1276 327L1435 853"/><path d="M1276 327L1435 627"/><path d="M1276 327L1435 728"/>
<!-- links back into the fish column -->
<path d="M1593 353L1276 79"/><path d="M1602 150L1276 51"/><path d="M1593 404L1276 134"/><path d="M1593 378L1276 106"/>
<path d="M1365 1001L1240 338"/><path d="M1362 1001L1276 299"/><path d="M1360 1001L1276 189"/><path d="M1367 1001L1276 134"/>
<!-- herpetofauna and birds -->
<path d="M1537 627L1593 454"/><path d="M1537 627L1593 488"/><path d="M1537 627L1593 404"/><path d="M1537 652L1593 429"/><path d="M1537 652L1593 488"/>
<path d="M1602 177L1537 652"/><path d="M1593 328L1537 627"/>
<path class="plain" d="M1486 637L1486 740"/>
</g>

<!-- hydrologic -->
<g id="hy-MAR" class="n hy"><rect x="12" y="12" width="85" height="21"/><text x="54.5" y="30">MAR</text></g>
<g id="hy-Do" class="n hy"><rect x="12" y="38.25" width="85" height="21"/><text x="54.5" y="56.25">Do</text></g>
<g id="hy-Dd" class="n hy"><rect x="12" y="64.5" width="85" height="21"/><text x="54.5" y="82.5">Dd</text></g>
<g id="hy-Dq" class="n hy"><rect x="12" y="90.75" width="85" height="21"/><text x="54.5" y="108.75">Dq</text></g>
<g id="hy-Ddv" class="n hy"><rect x="12" y="117" width="85" height="21"/><text x="54.5" y="135">Ddv</text></g>
<g id="hy-mxiDry" class="n hy"><rect x="12" y="143.25" width="85" height="21"/><text x="54.5" y="161.25">mxiDry</text></g>
<g id="hy-raiDry" class="n hy"><rect x="12" y="169.5" width="85" height="21"/><text x="54.5" y="187.5">raiDry</text></g>
<g id="hy-diDry" class="n hy"><rect x="12" y="195.75" width="85" height="21"/><text x="54.5" y="213.75">diDry</text></g>
<g id="hy-Fo" class="n hy"><rect x="12" y="222" width="85" height="21"/><text x="54.5" y="240">Fo</text></g>
<g id="hy-Fd" class="n hy"><rect x="12" y="248.25" width="85" height="21"/><text x="54.5" y="266.25">Fd</text></g>
<g id="hy-Fq" class="n hy"><rect x="12" y="274.5" width="85" height="21"/><text x="54.5" y="292.5">Fq</text></g>
<g id="hy-Fdv" class="n hy"><rect x="12" y="300.75" width="85" height="21"/><text x="54.5" y="318.75">Fdv</text></g>
<g id="hy-Fv" class="n hy"><rect x="12" y="327" width="85" height="21"/><text x="54.5" y="345">Fv</text></g>
<g id="hy-mxiWet" class="n hy"><rect x="12" y="353.25" width="85" height="21"/><text x="54.5" y="371.25">mxiWet</text></g>
<g id="hy-raiWet" class="n hy"><rect x="12" y="379.5" width="85" height="21"/><text x="54.5" y="397.5">raiWet</text></g>
<g id="hy-diWet" class="n hy"><rect x="12" y="405.75" width="85" height="21"/><text x="54.5" y="423.75">diWet</text></g>
<g id="hy-mxiT1" class="n hy"><rect x="12" y="432" width="85" height="21"/><text x="54.5" y="450">mxiT1</text></g>
<g id="hy-raiT1" class="n hy"><rect x="12" y="458.25" width="85" height="21"/><text x="54.5" y="476.25">raiT1</text></g>
<g id="hy-diT1" class="n hy"><rect x="12" y="484.5" width="85" height="21"/><text x="54.5" y="502.5">diT1</text></g>
<g id="hy-T2s" class="n hy"><rect x="12" y="510.75" width="85" height="21"/><text x="54.5" y="528.75">T2s</text></g>
<g id="hy-raiT2" class="n hy"><rect x="12" y="537" width="85" height="21"/><text x="54.5" y="555">raiT2</text></g>

<!-- hydraulic -->
<g id="hd-avChV" class="n hd"><rect x="158" y="483" width="86" height="21"/><text x="201" y="501">avChV</text></g>
<g id="hd-maxCQ" class="n hd"><rect x="158" y="507.5" width="86" height="21"/><text x="201" y="525.5">maxCQ</text></g>
<g id="hd-minCQ" class="n hd"><rect x="158" y="532" width="86" height="21"/><text x="201" y="550">minCQ</text></g>
<g id="hd-CSS" class="n hd"><rect x="158" y="556.5" width="86" height="21"/><text x="201" y="574.5">CSS</text></g>
<g id="hd-Slope" class="n hd"><rect x="158" y="581" width="86" height="21"/><text x="201" y="599">Slope</text></g>
<g id="hd-Elevation" class="n hd"><rect x="158" y="604" width="86" height="22"/><text x="201" y="612"><tspan x="201" y="612">Elevatio</tspan><tspan x="201" y="635">n</tspan></text></g>
<g id="hd-Inun2C" class="n hd"><rect x="158" y="629" width="86" height="21"/><text x="201" y="647">Inun2C</text></g>
<g id="hd-InunArea" class="n hd"><rect x="158" y="651" width="86" height="23"/><text x="201" y="660"><tspan x="201" y="660">InunAre</tspan><tspan x="201" y="685">a</tspan></text></g>
<g id="hd-avFpV" class="n hd"><rect x="158" y="677.5" width="86" height="21"/><text x="201" y="695.5">avFpV</text></g>
<g id="hd-maxFpV" class="n hd"><rect x="158" y="702" width="86" height="21"/><text x="201" y="720">maxFpV</text></g>
<g id="hd-minFpD" class="n hd"><rect x="158" y="727" width="86" height="21"/><text x="201" y="745">minFpD</text></g>

<!-- sediments -->
<g id="se-Load" class="n se"><rect x="304" y="706" width="85" height="35"/><text x="346.5" y="731">Load</text></g>
<g id="se-Conc" class="n se"><rect x="298" y="752" width="86" height="30"/><text x="341" y="775">Conc</text></g>
<g id="se-Seds" class="n se"><rect x="298" y="782" width="86" height="30"/><text x="341" y="803">Seds</text></g>
<g id="se-FpD" class="n se"><rect x="298" y="822" width="91" height="21"/><text x="343.5" y="840">FpD</text></g>
<g id="se-Onset" class="n se"><rect x="298" y="858" width="86" height="34"/><text x="341" y="883">Onset</text></g>

<!-- water quality -->
<g id="wq-Salinity" class="n wq"><rect x="473" y="787" width="85" height="21"/><text x="515.5" y="805">Salinity</text></g>
<g id="wq-Temp" class="n wq"><rect x="473" y="810.6" width="85" height="21"/><text x="515.5" y="828.6">Temp</text></g>
<g id="wq-pH" class="n wq"><rect x="473" y="834.2" width="85" height="21"/><text x="515.5" y="852.2">pH</text></g>
<g id="wq-DO" class="n wq"><rect x="473" y="857.8" width="85" height="21"/><text x="515.5" y="875.8">DO</text></g>
<g id="wq-TSS" class="n wq"><rect x="473" y="881.4" width="85" height="21"/><text x="515.5" y="899.4">TSS</text></g>
<g id="wq-ALK" class="n wq"><rect x="473" y="905" width="85" height="21"/><text x="515.5" y="923">ALK</text></g>
<g id="wq-SO4" class="n wq"><rect x="473" y="928.6" width="85" height="21"/><text x="515.5" y="946.6">SO4</text></g>
<g id="wq-TOTN" class="n wq"><rect x="473" y="952.2" width="85" height="21"/><text x="515.5" y="970.2">TOTN</text></g>
<g id="wq-NO32" class="n wq"><rect x="473" y="975.8" width="85" height="21"/><text x="515.5" y="993.8">NO32</text></g>
<g id="wq-NH4N" class="n wq"><rect x="473" y="999.4" width="85" height="21"/><text x="515.5" y="1017.4">NH4N</text></g>
<g id="wq-TOTP" class="n wq"><rect x="473" y="1023" width="85" height="21"/><text x="515.5" y="1041">TOTP</text></g>
<g id="wq-PO4P" class="n wq"><rect x="473" y="1046.6" width="85" height="21"/><text x="515.5" y="1064.6">PO4P</text></g>

<!-- geomorphology -->
<g id="ge-Erosion" class="n ge"><rect x="372" y="243" width="102" height="20"/><text x="423" y="260.5">Erosion</text></g>
<g id="ge-FineCoarse" class="n ge"><rect x="372" y="278" width="102" height="20"/><text x="423" y="283.5"><tspan x="423" y="283.5">FineCoars</tspan><tspan x="423" y="307.5">e</tspan></text></g>
<g id="ge-Sandbars" class="n ge"><rect x="372" y="312.5" width="102" height="20"/><text x="423" y="330">Sandbars</text></g>
<g id="ge-Rockreefs" class="n ge"><rect x="372" y="347" width="102" height="20"/><text x="423" y="364.5">Rockreefs</text></g>
<g id="ge-CWidth" class="n ge"><rect x="372" y="382" width="102" height="20"/><text x="423" y="399.5">CWidth</text></g>
<g id="ge-PDepth" class="n ge"><rect x="372" y="416" width="102" height="20"/><text x="423" y="433.5">PDepth</text></g>
<g id="ge-Clarity" class="n ge"><rect x="372" y="451" width="102" height="20"/><text x="423" y="468.5">Clarity</text></g>

<!-- vegetation -->
<g id="vg-CUCover" class="n vg"><rect x="800" y="117" width="101" height="20"/><text x="850.5" y="134.5">CUCover</text></g>
<g id="vg-CLCover" class="n vg"><rect x="800" y="144.85" width="101" height="20"/><text x="850.5" y="162.35">CLCover</text></g>
<g id="vg-CHerb" class="n vg"><rect x="800" y="172.7" width="101" height="20"/><text x="850.5" y="190.2">CHerb</text></g>
<g id="vg-CBioRip" class="n vg"><rect x="800" y="200.55" width="101" height="20"/><text x="850.5" y="218.05">CBioRip</text></g>
<g id="vg-CBioAlg" class="n vg"><rect x="800" y="228.4" width="101" height="20"/><text x="850.5" y="245.9">CBioAlg</text></g>
<g id="vg-ChComm" class="n vg"><rect x="800" y="256.25" width="101" height="20"/><text x="850.5" y="273.75">ChComm</text></g>
<g id="vg-FForest" class="n vg"><rect x="800" y="284.1" width="101" height="20"/><text x="850.5" y="301.6">FForest</text></g>
<g id="vg-FHerb" class="n vg"><rect x="800" y="311.95" width="101" height="20"/><text x="850.5" y="329.45">FHerb</text></g>
<g id="vg-FBiom" class="n vg"><rect x="800" y="339.8" width="101" height="20"/><text x="850.5" y="357.3">FBiom</text></g>
<g id="vg-FBioBG" class="n vg"><rect x="800" y="367.65" width="101" height="20"/><text x="850.5" y="385.15">FBioBG</text></g>
<g id="vg-FBioAlg" class="n vg"><rect x="800" y="395.5" width="101" height="20"/><text x="850.5" y="413">FBioAlg</text></g>
<g id="vg-FComm" class="n vg"><rect x="800" y="423.35" width="101" height="20"/><text x="850.5" y="440.85">FComm</text></g>
<g id="vg-RipInv" class="n vg"><rect x="800" y="451.2" width="101" height="20"/><text x="850.5" y="468.7">RipInv</text></g>
<g id="vg-FloatInv" class="n vg"><rect x="800" y="479.05" width="101" height="20"/><text x="850.5" y="496.55">FloatInv</text></g>

<!-- fish -->
<g id="fi-Rithron" class="n fi"><rect x="1184" y="41" width="92" height="21"/><text x="1230" y="59">Rithron</text></g>
<g id="fi-CRes" class="n fi"><rect x="1184" y="68.55" width="92" height="21"/><text x="1230" y="86.55">CRes</text></g>
<g id="fi-CSpawn" class="n fi"><rect x="1184" y="96.1" width="92" height="21"/><text x="1230" y="114.1">CSpawn</text></g>
<g id="fi-FSpawn" class="n fi"><rect x="1184" y="123.65" width="92" height="21"/><text x="1230" y="141.65">FSpawn</text></g>
<g id="fi-Gen" class="n fi"><rect x="1184" y="151.2" width="92" height="21"/><text x="1230" y="169.2">Gen</text></g>
<g id="fi-FRes" class="n fi"><rect x="1184" y="178.75" width="92" height="21"/><text x="1230" y="196.75">FRes</text></g>
<g id="fi-ERes" class="n fi"><rect x="1184" y="206.3" width="92" height="21"/><text x="1230" y="224.3">ERes</text></g>
<g id="fi-Anad" class="n fi"><rect x="1184" y="233.85" width="92" height="21"/><text x="1230" y="251.85">Anad</text></g>
<g id="fi-Catad" class="n fi"><rect x="1184" y="261.4" width="92" height="21"/><text x="1230" y="279.4">Catad</text></g>
<g id="fi-Marine" class="n fi"><rect x="1184" y="288.95" width="92" height="21"/><text x="1230" y="306.95">Marine</text></g>
<g id="fi-NonN" class="n fi"><rect x="1184" y="316.5" width="92" height="21"/><text x="1230" y="334.5">NonN</text></g>

<!-- mammals -->
<g id="ma-Dolphin" class="n ma"><rect x="1602" y="112" width="86" height="21"/><text x="1645" y="130">Dolphin</text></g>
<g id="ma-Ung" class="n ma"><rect x="1602" y="139" width="86" height="21"/><text x="1645" y="157">Ung</text></g>
<g id="ma-Otter" class="n ma"><rect x="1602" y="167" width="86" height="21"/><text x="1645" y="185">Otter</text></g>

<!-- birds -->
<g id="bi-CGround" class="n bi"><rect x="1593" y="267.5" width="102" height="21"/><text x="1644" y="285.5">CGround</text></g>
<g id="bi-SeaFV" class="n bi"><rect x="1593" y="292.6" width="102" height="21"/><text x="1644" y="310.6">SeaFV</text></g>
<g id="bi-TreeWB" class="n bi"><rect x="1593" y="317.7" width="102" height="21"/><text x="1644" y="335.7">TreeWB</text></g>
<g id="bi-CHole" class="n bi"><rect x="1593" y="342.8" width="102" height="21"/><text x="1644" y="360.8">CHole</text></g>
<g id="bi-Grambeds" class="n bi"><rect x="1593" y="367.9" width="102" height="21"/><text x="1644" y="385.9">Grambeds</text></g>
<g id="bi-FGround" class="n bi"><rect x="1593" y="393" width="102" height="21"/><text x="1644" y="411">FGround</text></g>
<g id="bi-CForest" class="n bi"><rect x="1593" y="418.1" width="102" height="21"/><text x="1644" y="436.1">CForest</text></g>
<g id="bi-CRock" class="n bi"><rect x="1593" y="443.2" width="102" height="21"/><text x="1644" y="461.2">CRock</text></g>
<g id="bi-WoodWater" class="n bi"><rect x="1593" y="467.5" width="102" height="41.5"/><text x="1644" y="485.5"><tspan x="1644" y="485.5">WoodWat</tspan><tspan x="1644" y="508">er</tspan></text></g>

<!-- invertebrates -->
<g id="iv-Hept" class="n iv"><rect x="1033" y="651" width="104" height="20"/><text x="1085" y="668.5">Hept</text></g>
<g id="iv-Baet" class="n iv"><rect x="1033" y="676.6" width="104" height="20"/><text x="1085" y="694.1">Baet</text></g>
<g id="iv-Emerge" class="n iv"><rect x="1033" y="702.2" width="104" height="20"/><text x="1085" y="719.7">Emerge</text></g>
<g id="iv-Palin" class="n iv"><rect x="1033" y="727.8" width="104" height="20"/><text x="1085" y="745.3">Palin</text></g>
<g id="iv-SnailA" class="n iv"><rect x="1033" y="753.4" width="104" height="20"/><text x="1085" y="770.9">SnailA</text></g>
<g id="iv-SnailD" class="n iv"><rect x="1033" y="779" width="104" height="20"/><text x="1085" y="796.5">SnailD</text></g>
<g id="iv-Naperta" class="n iv"><rect x="1033" y="804.6" width="104" height="20"/><text x="1085" y="822.1" font-style="italic">N. aperta</text></g>
<g id="iv-Bivalve" class="n iv"><rect x="1033" y="830.2" width="104" height="20"/><text x="1085" y="847.7">Bivalve</text></g>
<g id="iv-Poly" class="n iv"><rect x="1033" y="855.8" width="104" height="20"/><text x="1085" y="873.3">Poly</text></g>
<g id="iv-Crust" class="n iv"><rect x="1033" y="881.4" width="104" height="20"/><text x="1085" y="898.9">Crust</text></g>
<g id="iv-LitASPT" class="n iv"><rect x="1033" y="907" width="104" height="20"/><text x="1085" y="924.5">LitASPT</text></g>
<g id="iv-LitDiv" class="n iv"><rect x="1033" y="932.6" width="104" height="20"/><text x="1085" y="950.1">LitDiv</text></g>
<g id="iv-BenDiv" class="n iv"><rect x="1033" y="958.2" width="104" height="20"/><text x="1085" y="975.7">BenDiv</text></g>
<g id="iv-BenASPT" class="n iv"><rect x="1033" y="983.8" width="104" height="20"/><text x="1085" y="1001.3">BenASPT</text></g>
<g id="iv-Zoo" class="n iv"><rect x="1033" y="1009.4" width="104" height="20"/><text x="1085" y="1026.9">Zoo</text></g>

<!-- herpetofauna -->
<g id="he-AquSerp" class="n he"><rect x="1435" y="616" width="102" height="21"/><text x="1486" y="634">AquSerp</text></g>
<g id="he-SAquSerp" class="n he"><rect x="1435" y="641.45" width="102" height="21"/><text x="1486" y="659.45">SAquSerp</text></g>
<g id="he-AquTurt" class="n he"><rect x="1435" y="666.9" width="102" height="21"/><text x="1486" y="684.9">AquTurt</text></g>
<g id="he-SAquTurt" class="n he"><rect x="1435" y="692.35" width="102" height="21"/><text x="1486" y="710.35">SAquTurt</text></g>
<g id="he-Amphib" class="n he"><rect x="1435" y="717.8" width="102" height="21"/><text x="1486" y="735.8">Amphib</text></g>
<g id="he-SAquRep" class="n he"><rect x="1435" y="743.25" width="102" height="21"/><text x="1486" y="761.25">SAquRep</text></g>
<g id="he-SpAmphib" class="n he"><rect x="1435" y="768.7" width="102" height="21"/><text x="1486" y="786.7">SpAmphib</text></g>
<g id="he-SpRep" class="n he"><rect x="1435" y="793" width="102" height="20"/><text x="1486" y="811">SpRep</text></g>
<g id="he-DivAmphib" class="n he"><rect x="1435" y="817" width="102" height="21"/><text x="1486" y="823"><tspan x="1486" y="823">DivAmphi</tspan><tspan x="1486" y="846">b</tspan></text></g>
<g id="he-DivRep" class="n he"><rect x="1435" y="843" width="102" height="21"/><text x="1486" y="861">DivRep</text></g>

<!-- barrier -->
<g id="br-BARRIER" class="n br"><rect x="1248" y="1001" width="121" height="21"/><text x="1308.5" y="1019">BARRIER</text></g>

<!-- key -->
<g id="key-modelled" class="key">
<rect class="frame" x="1575" y="755" width="238" height="123"/>
<text x="1707" y="774">Key</text>
<rect x="1583" y="778" width="192" height="24" fill="#8db3e2"/><text x="1679" y="797.5">Hydrologic</text>
<rect x="1583" y="802" width="192" height="26" fill="#1f497d"/><text x="1679" y="822.5" style="fill:#fff">Hydraulic</text>
<rect x="1583" y="828" width="192" height="25" fill="#c4bd97"/><text x="1679" y="848">Water quality</text>
<rect x="1583" y="853" width="192" height="24" fill="#ffffcc"/><text x="1679" y="872.5">Sediments</text>
<text transform="translate(1807 827) rotate(-90)">modelled</text>
</g>
<g id="key-ecosystem" class="key">
<rect class="frame" x="1575" y="891" width="238" height="245"/>
<rect x="1583" y="898" width="228" height="28" fill="#ffff00"/><text x="1697" y="919.5">Geomorphology</text>
<rect x="1583" y="936" width="192" height="25" fill="#92d050"/><text x="1679" y="956">Vegetation</text>
<rect x="1583" y="966" width="192" height="24" fill="#ff99ff"/><text x="1679" y="985.5">Invertebrates</text>
<rect x="1583" y="995" width="192" height="25" fill="#00ffff"/><text x="1679" y="1015">Fish</text>
<rect x="1583" y="1026" width="192" height="25" fill="#f2dcdb"/><text x="1679" y="1046">Herpetofauna</text>
<rect x="1583" y="1056" width="192" height="25" fill="#fcc864"/><text x="1679" y="1076">Birds</text>
<rect x="1583" y="1085" width="192" height="25" fill="#00ff00"/><text x="1679" y="1105">Mammals</text>
<text transform="translate(1805 980) rotate(-90)">ecosystem</text>
</g>

<text class="title" x="222" y="1126" textLength="1184" lengthAdjust="spacingAndGlyphs">Could now produce detailed multi-faceted scenarios of</text>
</svg>
